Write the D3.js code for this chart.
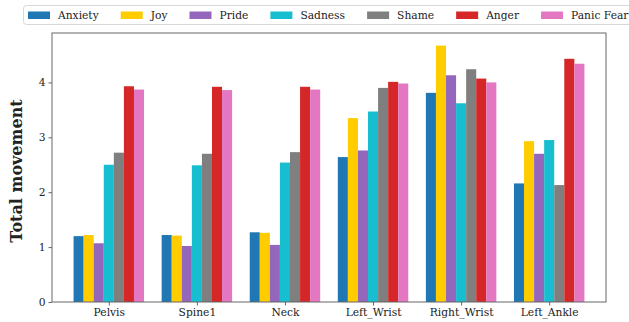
<!DOCTYPE html>
<html>
<head>
<meta charset="utf-8">
<script src="https://cdn.jsdelivr.net/npm/d3@7"></script>
<style>
  html, body { margin: 0; padding: 0; background: #fff; }
  svg { display: block; }
  text { font-family: "DejaVu Serif", serif; fill: #222; }
</style>
</head>
<body>
<svg id="chart" width="629" height="322"></svg>
<script>
// Body segments on the x axis
const categories = ["Pelvis", "Spine1", "Neck", "Left_Wrist", "Right_Wrist", "Left_Ankle"];

// Emotion series, one value per body segment
const emotions = ["Anxiety", "Joy", "Pride", "Sadness", "Shame", "Anger", "Panic Fear"];
const anxiety   = [1.20, 1.22, 1.27, 2.64, 3.81, 2.16];
const joy       = [1.22, 1.21, 1.26, 3.35, 4.67, 2.93];
const pride     = [1.07, 1.02, 1.04, 2.76, 4.13, 2.70];
const sadness   = [2.50, 2.49, 2.54, 3.47, 3.62, 2.95];
const shame     = [2.72, 2.70, 2.73, 3.90, 4.24, 2.13];
const anger     = [3.93, 3.92, 3.92, 4.01, 4.07, 4.43];
const panicFear = [3.87, 3.86, 3.87, 3.98, 4.00, 4.34];

const yTicks = [0, 1, 2, 3, 4];

const colors = ["#1f77b4", "#ffcc00", "#9467bd", "#17becf", "#7f7f7f", "#d62728", "#e377c2"];
const seriesValues = [anxiety, joy, pride, sadness, shame, anger, panicFear];
const series = emotions.map((name, i) => ({ name, color: colors[i], values: seriesValues[i] }));

const svg = d3.select("#chart");
const plot = { left: 52, right: 606, top: 33, bottom: 302 };

const x = d3.scaleLinear().domain([-0.645, categories.length - 1 + 0.645]).range([plot.left, plot.right]);
const y = d3.scaleLinear().domain([0, 4.9]).range([plot.bottom, plot.top]);

const groupWidth = 0.8;
const barW = groupWidth / series.length;

// Bars
series.forEach((s, si) => {
  svg.append("g")
    .selectAll("rect")
    .data(s.values)
    .join("rect")
    .attr("x", (d, ci) => x(ci - groupWidth / 2 + si * barW))
    .attr("width", (d, ci) => x(ci - groupWidth / 2 + (si + 1) * barW) - x(ci - groupWidth / 2 + si * barW))
    .attr("y", d => y(d))
    .attr("height", d => y(0) - y(d))
    .attr("fill", s.color);
});

// Frame
svg.append("rect")
  .attr("x", plot.left).attr("y", plot.top)
  .attr("width", plot.right - plot.left).attr("height", plot.bottom - plot.top)
  .attr("fill", "none").attr("stroke", "#666").attr("stroke-width", 1);

const tickFont = "10.7px";

// Y axis
const yAxis = d3.axisLeft(y).tickValues(yTicks).tickSize(3.5).tickPadding(3).tickFormat(d3.format("d"));
const gy = svg.append("g").attr("transform", `translate(${plot.left},0)`).call(yAxis);
gy.select(".domain").remove();
gy.selectAll(".tick line").attr("stroke", "#666");
gy.selectAll(".tick text").style("font-size", tickFont).style("font-family", "DejaVu Serif, serif").attr("fill", "#222");

// X axis
const xAxis = d3.axisBottom(x).tickValues(d3.range(categories.length)).tickFormat(i => categories[i]).tickSize(3.5).tickPadding(3);
const gx = svg.append("g").attr("transform", `translate(0,${plot.bottom})`).call(xAxis);
gx.select(".domain").remove();
gx.selectAll(".tick line").attr("stroke", "#666");
gx.selectAll(".tick text").style("font-size", tickFont).style("font-family", "DejaVu Serif, serif").attr("fill", "#222");

// Y label
svg.append("text")
  .attr("transform", `translate(22,171) rotate(-90)`)
  .attr("text-anchor", "middle")
  .style("font-size", "16px").style("font-weight", "bold")
  .text("Total movement");

// Legend
const legend = svg.append("g");
const legendBox = legend.append("rect")
  .attr("x", 23.5).attr("y", 5.5).attr("height", 19).attr("rx", 3)
  .attr("fill", "#fff").attr("stroke", "#d8d8d8");
let lx = 28;
series.forEach(s => {
  legend.append("rect").attr("x", lx).attr("y", 11.5).attr("width", 22).attr("height", 7.5).attr("fill", s.color);
  const t = legend.append("text").attr("x", lx + 30).attr("y", 19)
    .style("font-size", tickFont).text(s.name);
  lx += 30 + t.node().getComputedTextLength() + 22;
});
legendBox.attr("width", lx - 23.5 - 12);
</script>
</body>
</html>
